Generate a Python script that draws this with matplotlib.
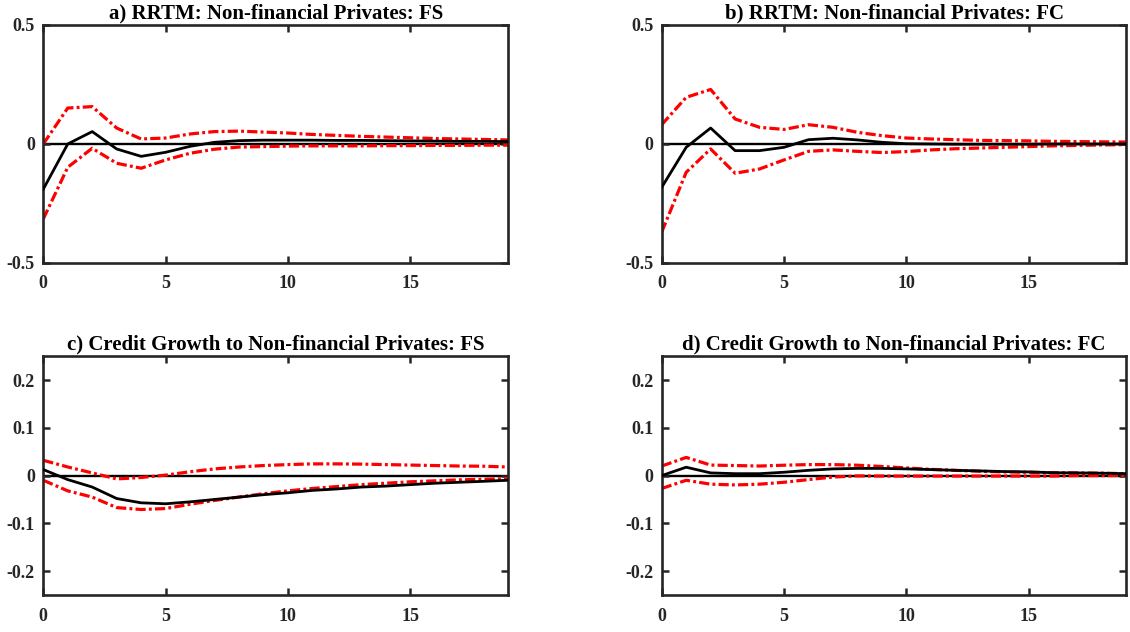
import numpy as np
import matplotlib
matplotlib.use("Agg")
import matplotlib.pyplot as plt

plt.rcParams['font.family'] = ['Liberation Serif', 'DejaVu Serif']
plt.rcParams['font.weight'] = 'bold'

horizon = np.arange(20)

# a) RRTM: Non-financial Privates: FS
a_mid = [-0.19, 0.0, 0.052, -0.021, -0.052, -0.035, -0.01, 0.007, 0.014, 0.016,
         0.016, 0.016, 0.015, 0.015, 0.014, 0.013, 0.012, 0.011, 0.011, 0.010]
a_up = [0.0, 0.151, 0.157, 0.067, 0.021, 0.025, 0.042, 0.052, 0.054, 0.050,
        0.046, 0.040, 0.036, 0.032, 0.029, 0.026, 0.023, 0.021, 0.019, 0.017]
a_lo = [-0.315, -0.098, -0.018, -0.081, -0.102, -0.067, -0.039, -0.022, -0.013, -0.011,
        -0.009, -0.008, -0.008, -0.008, -0.007, -0.007, -0.006, -0.006, -0.005, -0.005]

# b) RRTM: Non-financial Privates: FC
b_mid = [-0.182, -0.014, 0.067, -0.028, -0.028, -0.014, 0.018, 0.024, 0.017, 0.007,
         0.001, 0.0, -0.001, -0.001, -0.001, -0.001, 0.0, 0.0, 0.0, 0.0]
b_up = [0.081, 0.196, 0.229, 0.105, 0.070, 0.061, 0.081, 0.070, 0.049, 0.035,
        0.025, 0.021, 0.018, 0.015, 0.014, 0.013, 0.011, 0.010, 0.009, 0.008]
b_lo = [-0.37, -0.119, -0.021, -0.123, -0.105, -0.067, -0.031, -0.025, -0.031, -0.036,
        -0.032, -0.025, -0.020, -0.017, -0.014, -0.011, -0.008, -0.006, -0.004, -0.003]

# c) Credit Growth to Non-financial Privates: FS
c_mid = [0.0126, -0.0084, -0.024, -0.048, -0.057, -0.059, -0.055, -0.050, -0.045, -0.040,
         -0.036, -0.031, -0.028, -0.024, -0.022, -0.019, -0.016, -0.014, -0.012, -0.0098]
c_up = [0.032, 0.018, 0.0056, -0.007, -0.004, 0.001, 0.008, 0.014, 0.018, 0.021,
        0.023, 0.0245, 0.0245, 0.024, 0.023, 0.022, 0.021, 0.020, 0.0196, 0.018]
c_lo = [-0.0098, -0.032, -0.045, -0.067, -0.071, -0.069, -0.060, -0.052, -0.045, -0.038,
        -0.032, -0.027, -0.023, -0.019, -0.016, -0.013, -0.011, -0.009, -0.0077, -0.0063]

# d) Credit Growth to Non-financial Privates: FC
d_mid = [0.0, 0.0175, 0.0056, 0.004, 0.004, 0.007, 0.011, 0.014, 0.015, 0.015,
         0.014, 0.0126, 0.011, 0.0098, 0.0084, 0.0077, 0.006, 0.0056, 0.005, 0.004]
d_up = [0.020, 0.038, 0.022, 0.021, 0.020, 0.0217, 0.023, 0.023, 0.0217, 0.019,
        0.016, 0.013, 0.011, 0.009, 0.0077, 0.007, 0.006, 0.0056, 0.005, 0.004]
d_lo = [-0.027, -0.0098, -0.018, -0.0196, -0.018, -0.014, -0.0084, -0.003, -0.0007, -0.001,
        -0.001, -0.001, -0.001, -0.001, -0.001, -0.001, -0.001, 0.0, 0.0, 0.0]

titles = ['a) RRTM: Non-financial Privates: FS',
          'b) RRTM: Non-financial Privates: FC',
          'c) Credit Growth to Non-financial Privates: FS',
          'd) Credit Growth to Non-financial Privates: FC']
top_yticks = [-0.5, 0, 0.5]
top_ylabels = ['-0.5', '0', '0.5']
bot_yticks = [-0.2, -0.1, 0, 0.1, 0.2]
bot_ylabels = ['-0.2', '-0.1', '0', '0.1', '0.2']
xticks = [0, 5, 10, 15]

fig = plt.figure(figsize=(11.3, 6.32), dpi=100)
w, h = 0.4113, 0.3766
positions = [[0.0383, 0.5839, w, h], [0.5856, 0.5839, w, h],
             [0.0383, 0.0585, w, 0.378], [0.5856, 0.0585, w, 0.378]]
panels = [(a_mid, a_up, a_lo), (b_mid, b_up, b_lo), (c_mid, c_up, c_lo), (d_mid, d_up, d_lo)]

gray = '#262626'
for i, (mid, up, lo) in enumerate(panels):
    ax = fig.add_axes(positions[i])
    ax.axhline(0, color='black', lw=1.7, zorder=1)
    ax.plot(horizon, up, color='red', lw=2.3, dashes=(3.2, 1.0, 0.9, 1.0), zorder=2)
    ax.plot(horizon, lo, color='red', lw=2.3, dashes=(3.2, 1.0, 0.9, 1.0), zorder=2)
    ax.plot(horizon, mid, color='black', lw=2.0, zorder=3)
    ax.set_xlim(0, 19)
    ax.set_xticks(xticks)
    if i < 2:
        ax.set_ylim(-0.5, 0.5)
        ax.set_yticks(top_yticks)
        ax.set_yticklabels(top_ylabels)
    else:
        ax.set_ylim(-0.25, 0.25)
        ax.set_yticks(bot_yticks)
        ax.set_yticklabels(bot_ylabels)
    ax.tick_params(direction='in', length=5, width=1.8, colors=gray, labelsize=13,
                   top=True, right=True)
    ax.tick_params(axis='x', pad=9)
    ax.tick_params(axis='y', pad=6)
    for lab in ax.get_xticklabels() + ax.get_yticklabels():
        lab.set_fontweight('bold')
    for s in ax.spines.values():
        s.set_linewidth(1.9)
        s.set_color(gray)
    ax.set_title(titles[i], fontsize=15, fontweight='bold', color='black', pad=5)

fig.savefig('out.png', dpi=100)
